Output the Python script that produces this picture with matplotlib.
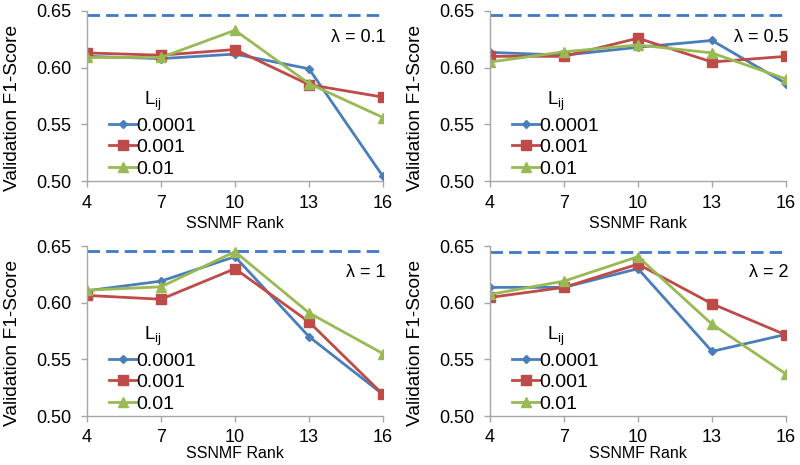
import matplotlib
matplotlib.use("Agg")
import matplotlib.pyplot as plt

plt.rcParams['font.family'] = ['Liberation Sans', 'DejaVu Sans']
plt.rcParams['mathtext.fontset'] = 'custom'
plt.rcParams['mathtext.rm'] = 'Liberation Sans'

ranks = [4, 7, 10, 13, 16]
labels = ['0.0001', '0.001', '0.01']
lambdas = ['0.1', '0.5', '1', '2']
baseline = [0.6465, 0.6465, 0.6456, 0.6447]

# F1 scores per lambda: rows = 0.0001, 0.001, 0.01
lam_01 = [[0.610, 0.608, 0.612, 0.599, 0.504],
          [0.613, 0.611, 0.616, 0.585, 0.574],
          [0.609, 0.609, 0.633, 0.586, 0.556]]
lam_05 = [[0.6135, 0.611, 0.618, 0.624, 0.586],
          [0.610, 0.610, 0.626, 0.605, 0.610],
          [0.605, 0.614, 0.620, 0.613, 0.590]]
lam_1 = [[0.6105, 0.619, 0.6406, 0.570, 0.519],
         [0.6064, 0.603, 0.630, 0.583, 0.519],
         [0.611, 0.614, 0.645, 0.591, 0.555]]
lam_2 = [[0.6135, 0.6135, 0.630, 0.557, 0.572],
         [0.6046, 0.6135, 0.634, 0.599, 0.5715],
         [0.6073, 0.619, 0.6406, 0.581, 0.537]]
all_data = [lam_01, lam_05, lam_1, lam_2]

colors = ['#4A7EBB', '#BE4B48', '#98B954']
markers = ['D', 's', '^']
msizes = [4.5, 6.5, 7]

fig = plt.figure(figsize=(8, 4.65), dpi=100)
W, H = 800.0, 465.0
boxes = [(87, 11, 383, 181), (490, 11, 786, 181),
         (87, 246, 383, 416), (490, 246, 786, 416)]

for k in range(4):
    x0, y0, x1, y1 = boxes[k]
    ax = fig.add_axes([x0 / W, 1 - y1 / H, (x1 - x0) / W, (y1 - y0) / H])
    ax.axhline(baseline[k], color='#3F78C4', lw=2, dashes=(4.5, 2.2))
    for i in range(3):
        ax.plot(ranks, all_data[k][i], color=colors[i], lw=2, marker=markers[i],
                ms=msizes[i], label=labels[i])
    ax.set_xlim(4, 16)
    ax.set_ylim(0.50, 0.65)
    ax.set_xticks(ranks)
    ax.set_yticks([0.50, 0.55, 0.60, 0.65])
    ax.set_yticklabels(['0.50', '0.55', '0.60', '0.65'])
    for s in ['top', 'right']:
        ax.spines[s].set_visible(False)
    for s in ['left', 'bottom']:
        ax.spines[s].set_color('#A6A6A6')
        ax.spines[s].set_linewidth(1)
    ax.tick_params(colors='#A6A6A6', labelcolor='black', labelsize=13,
                   length=4, width=1, pad=7)
    ax.tick_params(axis='x', pad=6 if k < 2 else 5)
    ax.set_xlabel('SSNMF Rank', fontsize=11.5, labelpad=3 if k < 2 else 0)
    ax.set_ylabel('Validation F1-Score', fontsize=13.8)
    ax.yaxis.set_label_coords(-0.222, 0.43)
    ax.text(1.01, 0.845, 'λ = ' + lambdas[k], transform=ax.transAxes,
            ha='right', va='center', fontsize=13)
    ax.legend(title='L$_{\\rm ij}$', loc='lower left', bbox_to_anchor=(0.03, -0.06),
              frameon=False, fontsize=14, title_fontsize=13.5,
              handlelength=1.4, handletextpad=0.0, labelspacing=0.2,
              borderpad=0.2)

fig.savefig('out.png', dpi=100)
